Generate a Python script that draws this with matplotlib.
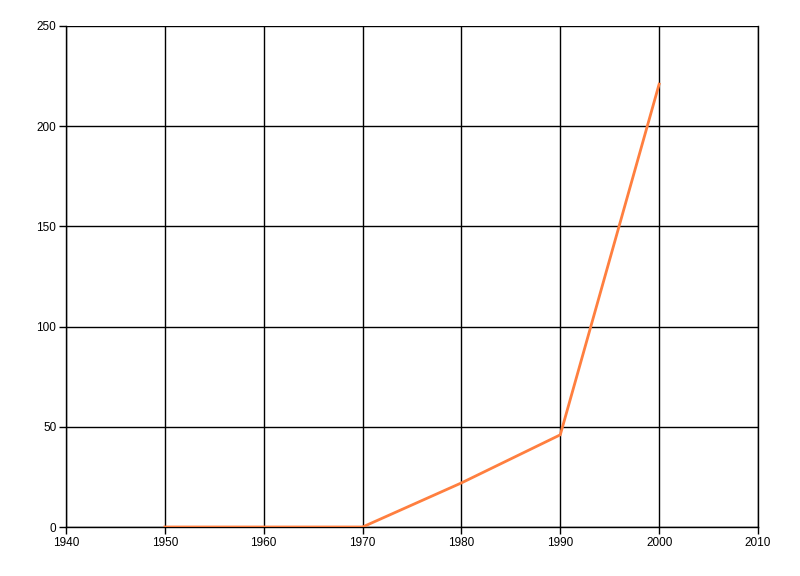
import matplotlib
matplotlib.use("Agg")
import matplotlib.pyplot as plt

years = [1950, 1960, 1970, 1980, 1990, 2000]
values = [0, 0, 0, 22, 46, 221]
x_ticks = [1940, 1950, 1960, 1970, 1980, 1990, 2000, 2010]
y_ticks = [0, 50, 100, 150, 200, 250]

plt.rcParams['font.family'] = ['Liberation Sans', 'DejaVu Sans']

fig = plt.figure(figsize=(8, 5.76), dpi=100)
ax = fig.add_axes([66 / 800, 49 / 576, 692 / 800, 501 / 576])

ax.plot(years, values, color='#ff7f3f', linewidth=2, zorder=3)

ax.set_xlim(1940, 2010)
ax.set_ylim(0, 250)
ax.set_xticks(x_ticks)
ax.set_yticks(y_ticks)
ax.grid(True, color='black', linewidth=1)
ax.set_axisbelow(True)

# the top edge is drawn by the 250 gridline, the right edge by the 2010 one
ax.spines['top'].set_visible(False)
for side in ['left', 'bottom', 'right']:
    ax.spines[side].set_linewidth(1)

ax.tick_params(direction='out', length=5, width=1, labelsize=8.5, pad=2)

fig.savefig('out.png', dpi=100)
